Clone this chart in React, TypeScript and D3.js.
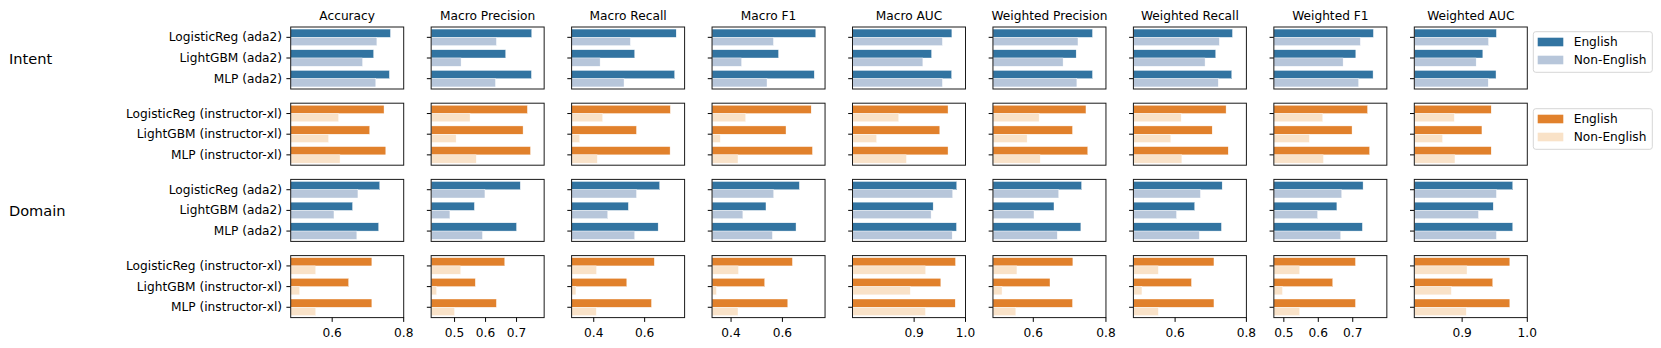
import * as d3 from "d3";

// chart size
const W = 1661;
const H = 348;

const metrics = [
  "Accuracy",
  "Macro Precision",
  "Macro Recall",
  "Macro F1",
  "Macro AUC",
  "Weighted Precision",
  "Weighted Recall",
  "Weighted F1",
  "Weighted AUC",
];
const models = ["LogisticReg", "LightGBM", "MLP"];
const groups = ["English", "Non-English"];

// x limits and ticks per metric column
const xMin = [0.484, 0.4245, 0.313, 0.326, 0.78, 0.489, 0.483, 0.471, 0.8266];
const xMax = [0.8, 0.789, 0.757, 0.766, 1.0, 0.8, 0.8, 0.799, 1.0];
const xTicks = [
  [0.6, 0.8],
  [0.5, 0.6, 0.7],
  [0.4, 0.6],
  [0.4, 0.6],
  [0.9, 1.0],
  [0.6, 0.8],
  [0.6, 0.8],
  [0.5, 0.6, 0.7],
  [0.9, 1.0],
];

// values: one row per model, one column per metric
const intentAda2En = [
  [0.763, 0.749, 0.724, 0.73, 0.9735, 0.763, 0.761, 0.76, 0.9526],
  [0.716, 0.665, 0.561, 0.585, 0.934, 0.718, 0.714, 0.709, 0.9318],
  [0.76, 0.748, 0.718, 0.724, 0.973, 0.763, 0.759, 0.759, 0.952],
];
const intentAda2Non = [
  [0.725, 0.635, 0.544, 0.565, 0.955, 0.723, 0.724, 0.722, 0.9405],
  [0.685, 0.521, 0.425, 0.441, 0.917, 0.682, 0.684, 0.672, 0.9215],
  [0.722, 0.632, 0.519, 0.54, 0.955, 0.72, 0.721, 0.717, 0.94],
];
const intentInstrEn = [
  [0.745, 0.735, 0.701, 0.712, 0.966, 0.745, 0.743, 0.743, 0.9446],
  [0.705, 0.721, 0.568, 0.614, 0.95, 0.708, 0.704, 0.698, 0.9304],
  [0.75, 0.745, 0.7, 0.717, 0.966, 0.75, 0.749, 0.749, 0.9446],
];
const intentInstrNon = [
  [0.618, 0.55, 0.435, 0.457, 0.87, 0.616, 0.617, 0.613, 0.888],
  [0.59, 0.505, 0.345, 0.358, 0.827, 0.583, 0.588, 0.574, 0.87],
  [0.622, 0.57, 0.414, 0.427, 0.885, 0.619, 0.619, 0.615, 0.889],
];
const domainAda2En = [
  [0.733, 0.712, 0.659, 0.666, 0.983, 0.733, 0.732, 0.73, 0.9777],
  [0.657, 0.564, 0.536, 0.536, 0.937, 0.657, 0.655, 0.654, 0.9477],
  [0.73, 0.7, 0.653, 0.653, 0.9825, 0.731, 0.73, 0.728, 0.9777],
];
const domainAda2Non = [
  [0.672, 0.598, 0.568, 0.566, 0.975, 0.67, 0.671, 0.668, 0.9526],
  [0.605, 0.485, 0.455, 0.446, 0.933, 0.602, 0.604, 0.598, 0.9251],
  [0.669, 0.59, 0.561, 0.561, 0.974, 0.666, 0.668, 0.665, 0.9526],
];
const domainInstrEn = [
  [0.711, 0.662, 0.638, 0.639, 0.9806, 0.709, 0.709, 0.708, 0.9732],
  [0.646, 0.567, 0.53, 0.531, 0.952, 0.646, 0.646, 0.642, 0.947],
  [0.711, 0.635, 0.627, 0.621, 0.98, 0.708, 0.709, 0.708, 0.9732],
];
const domainInstrNon = [
  [0.554, 0.52, 0.411, 0.429, 0.9225, 0.555, 0.553, 0.546, 0.9075],
  [0.509, 0.442, 0.33, 0.343, 0.8925, 0.514, 0.507, 0.496, 0.8834],
  [0.554, 0.5, 0.41, 0.427, 0.922, 0.552, 0.553, 0.546, 0.9063],
];

const blue = ["#3274a1", "#b7c6da"];
const orange = ["#e1812c", "#f9e2c8"];

const rows = [
  { task: "Intent", emb: "ada2", en: intentAda2En, non: intentAda2Non, colors: blue },
  { task: "", emb: "instructor-xl", en: intentInstrEn, non: intentInstrNon, colors: orange },
  { task: "Domain", emb: "ada2", en: domainAda2En, non: domainAda2Non, colors: blue },
  { task: "", emb: "instructor-xl", en: domainInstrEn, non: domainInstrNon, colors: orange },
];

// layout
const left0 = 290.7;
const colStep = 140.45;
const panelW = 113;
const top0 = 27;
const rowStep = 76.2;
const panelH = 62;
const font = "DejaVu Sans";
const fs = 12.2;

export default function App() {
  const xScales = metrics.map((_, c) =>
    d3
      .scaleLinear()
      .domain([xMin[c], xMax[c]])
      .range([left0 + c * colStep, left0 + c * colStep + panelW])
  );

  return (
    <svg
      width={W}
      height={H}
      style={{ position: "absolute", left: 0, top: 0, display: "block", background: "#fff" }}
      fontFamily={font}
    >
      {rows.map((row, r) => {
        const top = top0 + r * rowStep;
        const yBand = d3
          .scaleBand()
          .domain(models)
          .range([top, top + panelH])
          .paddingInner(0.2)
          .paddingOuter(0.1);
        const yHue = d3.scaleBand().domain(groups).range([0, yBand.bandwidth()]);
        const bottomRow = r === rows.length - 1;

        return (
          <g key={r}>
            {row.task && (
              <text
                x={8.9}
                y={top + panelH / 2}
                fontSize={14.6}
                dominantBaseline="central"
              >
                {row.task}
              </text>
            )}
            {metrics.map((metric, c) => {
              const x = xScales[c];
              const x0 = x.range()[0];
              return (
                <g key={c}>
                  {r === 0 && (
                    <text x={x0 + panelW / 2} y={19.5} fontSize={fs} textAnchor="middle">
                      {metric}
                    </text>
                  )}
                  {models.map((m, mi) => {
                    const yb = yBand(m)!;
                    const cy = yb + yBand.bandwidth() / 2;
                    return (
                      <g key={m}>
                        {[row.en[mi][c], row.non[mi][c]].map((v, gi) => (
                          <rect
                            key={gi}
                            x={x0}
                            y={yb + yHue(groups[gi])!}
                            width={Math.max(0, x(v) - x0)}
                            height={yHue.bandwidth()}
                            fill={row.colors[gi]}
                            stroke="#fff"
                            strokeWidth={0.4}
                          />
                        ))}
                        <line x1={x0 - 4.3} x2={x0} y1={cy} y2={cy} stroke="#000" strokeWidth={1} />
                        {c === 0 && (
                          <text
                            x={x0 - 8.6}
                            y={cy}
                            fontSize={fs}
                            textAnchor="end"
                            dominantBaseline="central"
                          >
                            {`${m} (${row.emb})`}
                          </text>
                        )}
                      </g>
                    );
                  })}
                  <rect
                    x={x0}
                    y={top}
                    width={panelW}
                    height={panelH}
                    fill="none"
                    stroke="#1a1a1a"
                    strokeWidth={1}
                  />
                  {bottomRow &&
                    xTicks[c].map((t) => (
                      <g key={t}>
                        <line
                          x1={x(t)}
                          x2={x(t)}
                          y1={top + panelH}
                          y2={top + panelH + 4.3}
                          stroke="#000"
                          strokeWidth={1}
                        />
                        <text x={x(t)} y={336.5} fontSize={fs} textAnchor="middle">
                          {d3.format(".1f")(t)}
                        </text>
                      </g>
                    ))}
                </g>
              );
            })}
          </g>
        );
      })}

      {[rows[0].colors, rows[1].colors].map((cols, li) => {
        const ly = li === 0 ? 31.7 : 108.7;
        return (
          <g key={li}>
            <rect
              x={1533.3}
              y={ly}
              width={119}
              height={40.6}
              rx={2.5}
              fill="#fff"
              fillOpacity={0.8}
              stroke="#d6d6d6"
              strokeWidth={1}
            />
            {groups.map((g, gi) => {
              const cy = ly + 10.3 + gi * 18;
              return (
                <g key={g}>
                  <rect x={1537.7} y={cy - 4.3} width={25.6} height={8.6} fill={cols[gi]} />
                  <text x={1573.7} y={cy} fontSize={fs} dominantBaseline="central">
                    {g}
                  </text>
                </g>
              );
            })}
          </g>
        );
      })}
    </svg>
  );
}
